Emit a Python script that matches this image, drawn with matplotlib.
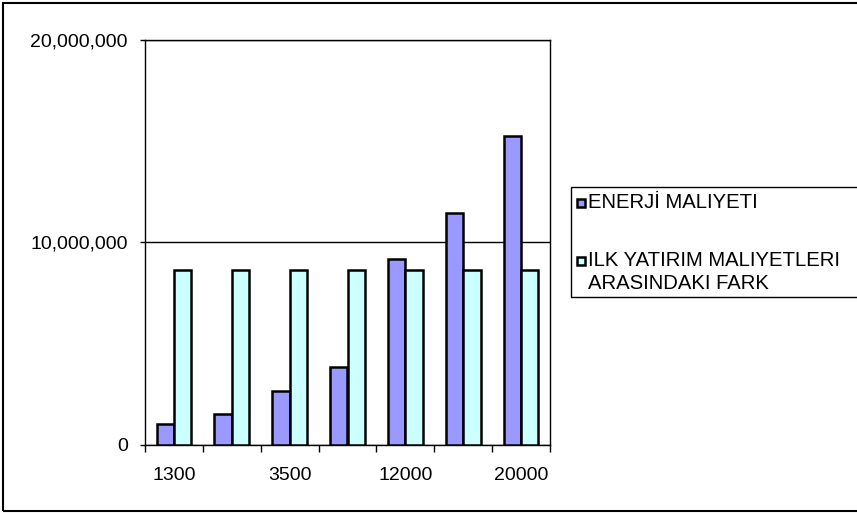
import numpy as np
import matplotlib
matplotlib.use("Agg")
import matplotlib.pyplot as plt
from matplotlib.patches import Rectangle
from matplotlib.ticker import FuncFormatter

# Datos del grafico
kategoriler = ["1300", "2000", "3500", "5000", "12000", "15000", "20000"]
enerji_maliyeti = [1000000, 1530000, 2650000, 3810000, 9160000, 11430000, 15260000]
yatirim_farki = [8620000, 8620000, 8620000, 8620000, 8620000, 8620000, 8620000]
seriler = ["ENERJİ MALIYETI", "ILK YATIRIM MALIYETLERI\nARASINDAKI FARK"]
renkler = ["#9999FF", "#CCFFFF"]
y_ticks = [0, 10000000, 20000000]

plt.rcParams["font.family"] = ["Liberation Sans", "DejaVu Sans"]
plt.rcParams["font.size"] = 14

W, H = 857, 513
fig = plt.figure(figsize=(W / 100, H / 100), dpi=100)
ax = fig.add_axes([145 / W, 1 - 444.5 / H, 405 / W, 404.5 / H])

x = np.arange(len(kategoriler))
gen = 0.3
ax.bar(x - gen / 2, enerji_maliyeti, gen, color=renkler[0], edgecolor="black", linewidth=1.8, zorder=3)
ax.bar(x + gen / 2, yatirim_farki, gen, color=renkler[1], edgecolor="black", linewidth=1.8, zorder=3)

ax.set_xlim(-0.5, len(kategoriler) - 0.5)
ax.set_ylim(0, 20000000)

# Y ekseni
ax.set_yticks(y_ticks)
ax.yaxis.set_major_formatter(FuncFormatter(lambda v, p: f"{int(v):,}"))
ax.tick_params(axis="y", direction="out", length=3.8, width=1, pad=8.5)
ax.grid(axis="y", color="black", linewidth=1, zorder=1)

# X ekseni: etiketler ortada, cizgiler kategori sinirlarinda
ax.set_xticks(x[::2])
ax.set_xticklabels(kategoriler[::2])
ax.set_xticks(np.arange(len(kategoriler) + 1) - 0.5, minor=True)
ax.tick_params(axis="x", which="major", length=0, pad=16)
ax.tick_params(axis="x", which="minor", direction="out", length=5, width=1)

for s in ax.spines.values():
    s.set_linewidth(1)
    s.set_color("black")

# Dis cerceve
fig.add_artist(Rectangle((3 / W, 1 - 511 / H), 1, 508 / H, transform=fig.transFigure,
                         fill=False, edgecolor="black", linewidth=1.5))

# Gosterge kutusu
fig.add_artist(Rectangle((571 / W, 1 - 297 / H), 1, 110 / H, transform=fig.transFigure,
                         fill=False, edgecolor="black", linewidth=1))
satir_y = [[202.5], [260.5, 283.5]]
for ad, renk, ys in zip(seriler, renkler, satir_y):
    fig.add_artist(Rectangle((577 / W, 1 - (ys[0] + 4) / H), 8 / W, 8 / H, transform=fig.transFigure,
                             facecolor=renk, edgecolor="black", linewidth=1.8))
    for satir, yy in zip(ad.split("\n"), ys):
        fig.text(588 / W, 1 - yy / H, satir, ha="left", va="center", fontsize=14.6)

fig.savefig("out.png", dpi=100)
